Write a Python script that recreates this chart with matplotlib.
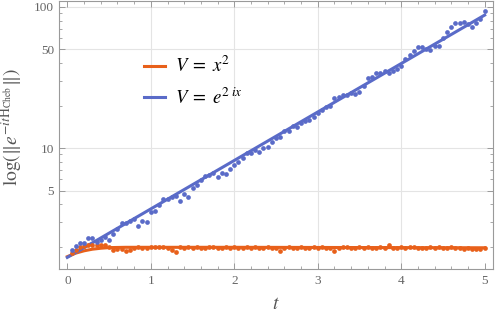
import numpy as np
import matplotlib
matplotlib.use("Agg")
import matplotlib.pyplot as plt
from matplotlib.ticker import FixedLocator, NullFormatter, LogLocator

# sample times of the dots
t_dots = np.round(np.arange(1, 101) * 0.05, 2)

# V = e^{2ix}: norm
blue_dots = [
    1.91, 2.03, 2.11, 2.14, 2.29, 2.31, 2.17, 2.24, 2.34, 2.23,
    2.45, 2.69, 2.92, 2.95, 3.02, 3.16, 2.80, 3.05, 3.00, 3.53,
    3.60, 3.98, 4.33, 4.37, 4.47, 4.57, 4.21, 4.72, 4.47, 5.22,
    5.50, 5.93, 6.32, 6.46, 6.68, 6.25, 6.62, 6.55, 7.06, 7.59,
    8.00, 8.51, 9.16, 9.27, 9.68, 9.42, 9.95, 10.2, 11.0, 11.7,
    12.0, 13.1, 13.1, 14.3, 14.2, 15.0, 15.5, 15.8, 16.6, 17.6,
    18.6, 19.6, 20.0, 22.5, 22.9, 23.8, 23.8, 24.4, 24.3, 25.1,
    27.5, 31.2, 31.6, 34.2, 34.2, 35.3, 34.2, 35.3, 36.1, 38.2,
    42.6, 45.7, 49.0, 51.8, 52.0, 50.1, 49.5, 52.8, 52.8, 60.0,
    66.8, 71.8, 77.4, 77.4, 78.7, 75.7, 72.4, 77.4, 81.8, 94.2,
]

# V = x^2
orange_dots = [
    1.81, 1.91, 1.98, 2.02, 2.05, 2.07, 2.05, 2.05, 2.07, 2.00,
    1.91, 1.92, 1.94, 1.87, 1.88, 1.96, 1.98, 1.97, 1.96, 1.99,
    1.98, 1.99, 1.98, 1.97, 1.88, 1.82, 1.98, 1.97, 1.98, 1.97,
    1.98, 1.96, 1.97, 1.98, 1.99, 1.97, 1.96, 1.98, 1.97, 1.98,
    1.97, 1.96, 1.98, 1.97, 1.99, 1.96, 1.97, 1.98, 1.97, 1.96,
    1.86, 1.97, 1.98, 1.96, 1.97, 1.99, 1.97, 1.96, 1.98, 1.97,
    1.98, 1.96, 1.97, 1.85, 1.97, 1.98, 1.99, 1.97, 1.96, 1.98,
    1.97, 1.98, 1.96, 1.97, 1.98, 1.97, 2.06, 1.96, 1.97, 1.98,
    1.97, 1.99, 1.98, 1.97, 1.96, 1.97, 1.98, 1.97, 1.98, 1.96,
    1.97, 1.98, 1.96, 1.95, 1.94, 1.95, 1.93, 1.92, 1.93, 1.96,
]

# fitted curves
t_fit_blue = [0.0, 5.0]
blue_fit = [1.68, 87.4]
t_fit_orange = [0.0, 0.1, 0.2, 0.3, 0.4, 0.5, 0.7, 1.0, 2.0, 3.0, 4.0, 5.0]
orange_fit = [1.70, 1.80, 1.87, 1.92, 1.95, 1.97, 1.98, 1.98, 1.98, 1.975, 1.97, 1.965]

orange = "#E8601A"
blue = "#5A6BC8"
frame_col = "#9a9a9a"
tick_col = "#666666"

plt.rcParams["font.family"] = ["Liberation Serif", "DejaVu Serif"]
plt.rcParams["mathtext.fontset"] = "stix"

fig = plt.figure(figsize=(4.98, 3.16), dpi=100)
ax = fig.add_axes([59 / 498, 1 - 269 / 316, 434 / 498, 268 / 316])

ax.plot(t_fit_orange, orange_fit, color=orange, lw=2.2, zorder=3,
        label=r"$V\;=\;x^2$")
ax.plot(t_fit_blue, blue_fit, color=blue, lw=2.2, zorder=3,
        label=r"$V\;=\;e^{2\;i x}$")
ax.plot(t_dots, orange_dots, "o", color=orange, ms=3.4, mew=0, zorder=4)
ax.plot(t_dots, blue_dots, "o", color=blue, ms=3.4, mew=0, zorder=4)

ax.set_yscale("log")
ax.set_xlim(-0.1, 5.1)
ax.set_ylim(1.39, 110)

ax.xaxis.set_major_locator(FixedLocator([0, 1, 2, 3, 4, 5]))
ax.xaxis.set_minor_locator(FixedLocator(np.arange(0, 5.01, 0.2)))
ax.yaxis.set_major_locator(FixedLocator([5, 10, 50, 100]))
ax.yaxis.set_minor_locator(LogLocator(base=10, subs=np.arange(2, 10)))
ax.yaxis.set_minor_formatter(NullFormatter())
ax.set_yticklabels(["5", "10", "50", "100"])

for v in [1, 2, 3, 4]:
    ax.axvline(v, color="#e4e4e4", lw=0.8, zorder=0)
for v in [5, 10, 50, 100]:
    ax.axhline(v, color="#e4e4e4", lw=0.8, zorder=0)

for s in ax.spines.values():
    s.set_color(frame_col)
    s.set_linewidth(0.8)

ax.tick_params(which="both", direction="in", top=True, right=True,
               color=frame_col, labelcolor=tick_col, labelsize=9.5)
ax.tick_params(which="major", length=4, width=0.7)
ax.tick_params(which="minor", length=2, width=0.6)
ax.tick_params(axis="x", pad=4)

ax.set_xlabel(r"$t$", fontsize=14, color="#555555")
ax.xaxis.set_label_coords(0.5, -0.1)
ax.set_ylabel(r"$\log(\|e^{-i t \mathrm{H}_{\mathrm{Cheb}}}\|)$",
              fontsize=14, color="#555555")
ax.yaxis.set_label_coords(-0.078, 0.53)

ax.legend(loc="upper left", bbox_to_anchor=(0.175, 0.83), frameon=False,
          fontsize=13.5, handlelength=1.1, handletextpad=0.55,
          labelspacing=0.6, borderpad=0)

fig.savefig("out.png", dpi=100)
